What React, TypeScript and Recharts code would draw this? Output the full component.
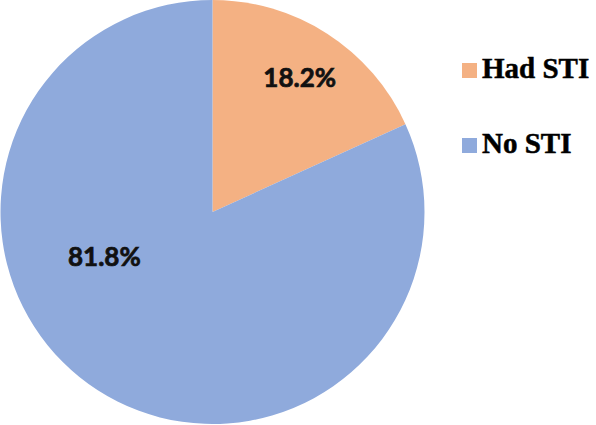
import React from 'react';
import { PieChart, Pie, Cell, Legend } from 'recharts';

const categories = ['Had STI', 'No STI'];
const values = [18.2, 81.8];
const labels = ['18.2%', '81.8%'];
const colors = ['#F4B183', '#8FAADC'];

// label placement (fraction of radius, angle in degrees, math convention)
const labelPlacement = [
  { r: 0.76, angle: null as number | null },
  { r: 0.55, angle: 202 },
];

const data = categories.map((name, i) => ({ name, value: values[i], label: labels[i] }));

const RADIAN = Math.PI / 180;

const renderLabel = (props: any) => {
  const { cx, cy, midAngle, outerRadius, index } = props;
  const p = labelPlacement[index];
  const ang = p.angle == null ? midAngle : p.angle;
  const r = outerRadius * p.r;
  const x = cx + r * Math.cos(-ang * RADIAN);
  const y = cy + r * Math.sin(-ang * RADIAN);
  return (
    <text
      x={x}
      y={y}
      fill="#111"
      stroke="#111"
      strokeWidth={0.7}
      textAnchor="middle"
      dominantBaseline="central"
      style={{ fontFamily: 'Lato, sans-serif', fontWeight: 700, fontSize: 26 }}
    >
      {data[index].label}
    </text>
  );
};

const renderLegend = () => (
  <div style={{ fontFamily: '"Liberation Serif", "Times New Roman", serif', fontWeight: 700, fontSize: 29, color: '#000', WebkitTextStroke: '0.5px #000' }}>
    {data.map((d, i) => (
      <div key={d.name} style={{ display: 'flex', alignItems: 'center', height: 38, marginBottom: i === 0 ? 37 : 0 }}>
        <span style={{ display: 'inline-block', width: 15, height: 15, background: colors[i], marginRight: 5 }} />
        <span style={{ position: 'relative', top: -2 }}>{d.name}</span>
      </div>
    ))}
  </div>
);

export default function App() {
  return (
    <div style={{ position: 'absolute', left: 0, top: 0, width: 596, height: 425, background: '#fff' }}>
      <PieChart width={596} height={425} margin={{ top: 0, right: 0, bottom: 0, left: 0 }}>
        <Pie
          data={data}
          dataKey="value"
          nameKey="name"
          cx={212.5}
          cy={212}
          outerRadius={212}
          startAngle={90}
          endAngle={-270}
          stroke="none"
          label={renderLabel}
          labelLine={false}
          isAnimationActive={false}
        >
          {data.map((d, i) => (
            <Cell key={d.name} fill={colors[i]} />
          ))}
        </Pie>
        <Legend
          content={renderLegend}
          layout="vertical"
          wrapperStyle={{ position: 'absolute', left: 462, top: 51, width: 134 }}
        />
      </PieChart>
    </div>
  );
}
